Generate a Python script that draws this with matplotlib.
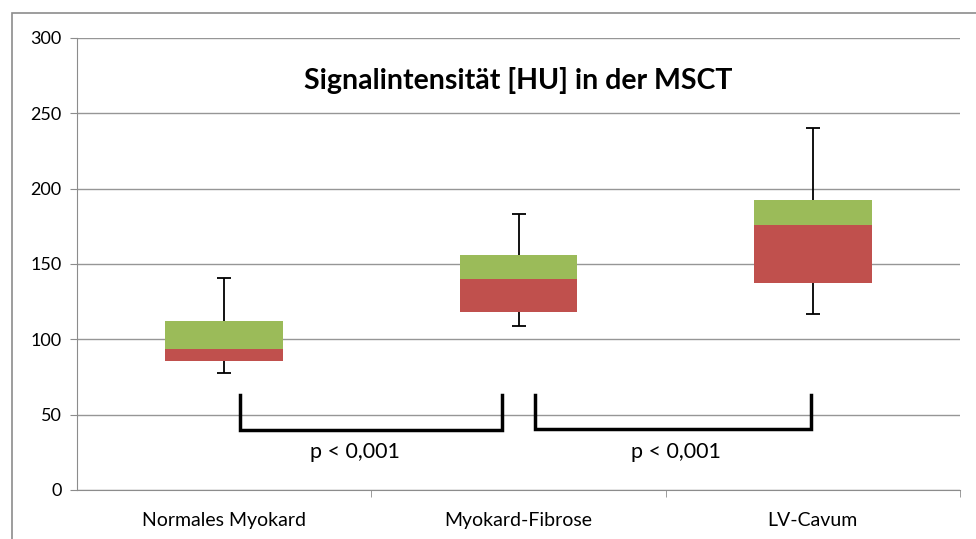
import matplotlib.pyplot as plt
from matplotlib.patches import Rectangle

# box plot values
categories = ['Normales Myokard', 'Myokard-Fibrose', 'LV-Cavum']
q1 = [85.5, 118, 137.5]
median = [93.5, 140, 176]
q3 = [112, 156, 192.5]
whisker_min = [77.5, 109, 117]
whisker_max = [141, 183, 240]
yticks = [0, 50, 100, 150, 200, 250, 300]
p_label = 'p < 0,001'

plt.rcParams['font.family'] = ['Lato', 'DejaVu Sans']

fig = plt.figure(figsize=(9.76, 5.39), dpi=100)
ax = fig.add_axes([77 / 976, 49 / 539, 883 / 976, 452 / 539])

# outer chart border
fig.patches.append(Rectangle((12 / 976, -0.05), 1.1, (539 - 13) / 539 + 0.05,
                             transform=fig.transFigure, fill=False,
                             edgecolor='#8c8c8c', linewidth=1.2))

x = list(range(len(categories)))
lower = [m - a for m, a in zip(median, q1)]
upper = [b - m for b, m in zip(q3, median)]
width = 0.4

# whiskers behind the boxes
ax.errorbar(x, median, yerr=[[m - lo for m, lo in zip(median, whisker_min)],
                             [hi - m for m, hi in zip(median, whisker_max)]],
            fmt='none', ecolor='black', elinewidth=1.3, capsize=5, capthick=1.3, zorder=2)
ax.bar(x, lower, width, bottom=q1, color='#C0504D', zorder=3)
ax.bar(x, upper, width, bottom=median, color='#9BBB59', zorder=3)

ax.set_xlim(-0.5, 2.5)
ax.set_ylim(0, 300)
ax.set_yticks(yticks)
ax.yaxis.grid(True, color='#969696', linewidth=1.0, zorder=0)
ax.set_axisbelow(True)

ax.set_xticks(x)
ax.set_xticklabels(categories, fontsize=14)
ax.set_xticks([0.5, 1.5, 2.5], minor=True)
ax.tick_params(axis='x', which='major', length=0, pad=16)
ax.tick_params(axis='x', which='minor', length=5, color='#8c8c8c')
ax.tick_params(axis='y', length=5, color='#8c8c8c', labelsize=13, pad=6)

for side in ['top', 'right']:
    ax.spines[side].set_visible(False)
for side in ['left', 'bottom']:
    ax.spines[side].set_color('#8c8c8c')

ax.text(1.0, 272, 'Signalintensität [HU] in der MSCT', ha='center', va='center',
        fontsize=20.5, fontweight='bold')

# significance brackets
ax.plot([0.054, 0.054, 0.944, 0.944], [63, 39.5, 39.5, 63], color='black', lw=2.5,
        solid_joinstyle='miter', zorder=4)
ax.plot([1.056, 1.056, 1.994, 1.994], [63, 40.5, 40.5, 63], color='black', lw=2.5,
        solid_joinstyle='miter', zorder=4)
ax.text(0.445, 25, p_label, ha='center', va='center', fontsize=15.5)
ax.text(1.535, 25, p_label, ha='center', va='center', fontsize=15.5)

fig.savefig('out.png', dpi=100)
